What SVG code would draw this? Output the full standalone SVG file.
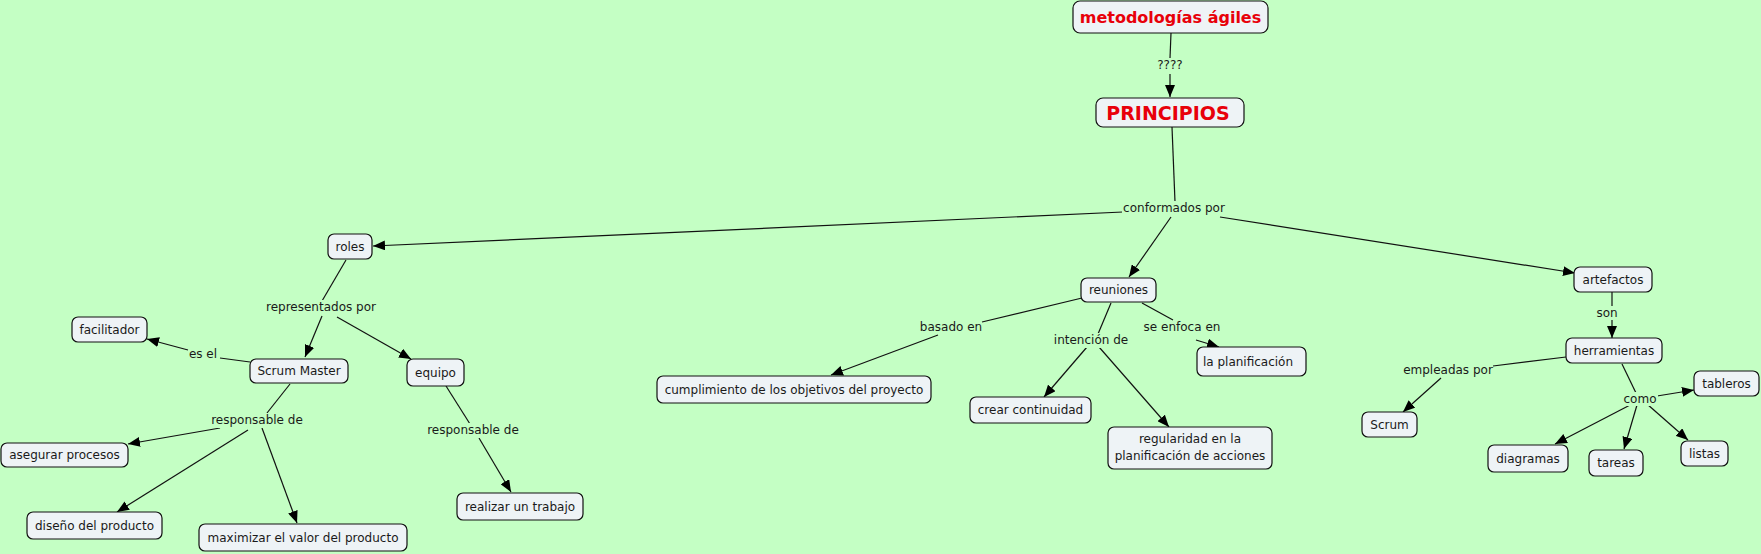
<svg xmlns="http://www.w3.org/2000/svg" width="1761" height="554" viewBox="0 0 1761 554">
<style>
.n rect{fill:#eef3f6;stroke:#111;stroke-width:1.2}
.n text{font-family:"DejaVu Sans",Verdana,sans-serif;font-size:12px;fill:#1a1a1a;text-anchor:middle;dominant-baseline:central}
.n text.t{font-weight:bold;fill:#e8000a}
.l{font-family:"DejaVu Sans",Verdana,sans-serif;font-size:12px;fill:#1a1a1a;text-anchor:middle;dominant-baseline:central}
.c path{fill:none;stroke:#111;stroke-width:1.2}
.c path.a{marker-end:url(#ah)}
</style>
<defs>
<marker id="ah" viewBox="0 0 12 10" refX="12" refY="5" markerWidth="12" markerHeight="10" markerUnits="userSpaceOnUse" orient="auto">
<path d="M0,0 L12,5 L0,10 z" fill="#000"/>
</marker>
</defs>
<rect x="0" y="0" width="1761" height="554" fill="#c4ffc4"/>
<g class="c" id="connectors">
<path d="M1171,33 L1170,58"/><path class="a" d="M1170,74 L1170,97"/>
<path d="M1172,127 L1175,202"/>
<path class="a" d="M1123,212 L373,246"/>
<path class="a" d="M1171,217 L1129,277"/>
<path class="a" d="M1220,217 L1575,273"/>
<path d="M346,260 L322,301"/><path class="a" d="M322,316 L305,357"/>
<path class="a" d="M337,317 L411,359"/>
<path d="M250,362 L220,358"/><path class="a" d="M188,350 L147,339"/>
<path d="M290,384 L267,413"/>
<path class="a" d="M220,428 L128,444"/>
<path class="a" d="M248,430 L117,512"/>
<path class="a" d="M262,428 L297,523"/>
<path d="M446,386 L470,424"/><path class="a" d="M479,438 L511,492"/>
<path d="M1082,298 L982,322"/><path class="a" d="M938,335 L831,375"/>
<path d="M1111,303 L1098,334"/>
<path class="a" d="M1087,347 L1044,397"/>
<path class="a" d="M1099,347 L1169,427"/>
<path d="M1142,303 L1173,320"/><path class="a" d="M1196,340 L1219,347"/>
<path d="M1612,292 L1612,306"/><path class="a" d="M1612,320 L1612,338"/>
<path d="M1566,357 L1493,366"/><path class="a" d="M1441,378 L1403,412"/>
<path d="M1622,364 L1636,393"/>
<path class="a" d="M1657,396 L1694,390"/>
<path class="a" d="M1632,404 L1555,444"/>
<path class="a" d="M1637,405 L1624,449"/>
<path class="a" d="M1647,404 L1688,440"/>
</g>
<g id="labels">
<rect x="1154" y="59" width="32" height="14" fill="#c4ffc4"/>
<text class="l" x="1170" y="65">????</text>
<rect x="1122" y="201" width="104" height="15" fill="#c4ffc4"/>
<text class="l" x="1174" y="208">conformados por</text>
<rect x="265" y="300" width="112" height="15" fill="#c4ffc4"/>
<text class="l" x="321" y="307">representados por</text>
<text class="l" x="203" y="354">es el</text>
<rect x="211" y="413" width="92" height="15" fill="#c4ffc4"/>
<text class="l" x="257" y="420">responsable de</text>
<rect x="426" y="423" width="93" height="15" fill="#c4ffc4"/>
<text class="l" x="473" y="430">responsable de</text>
<text class="l" x="951" y="327">basado en</text>
<rect x="1053" y="333" width="76" height="15" fill="#c4ffc4"/>
<text class="l" x="1091" y="340">intención de</text>
<text class="l" x="1182" y="327">se enfoca en</text>
<rect x="1595" y="306" width="25" height="14" fill="#c4ffc4"/>
<text class="l" x="1607" y="313">son</text>
<text class="l" x="1448" y="370">empleadas por</text>
<rect x="1622" y="392" width="36" height="14" fill="#c4ffc4"/>
<text class="l" x="1640" y="399">como</text>
</g>
<g class="n" id="n-metodologias"><rect x="1073" y="1" width="195" height="32" rx="7"/><text class="t" x="1170.5" y="17" style="font-size:16px">metodologías ágiles</text></g>
<g class="n" id="n-principios"><rect x="1096" y="98" width="148" height="29" rx="7"/><text class="t" x="1168" y="113" style="font-size:19px">PRINCIPIOS</text></g>
<g class="n" id="n-roles"><rect x="328" y="234" width="44" height="25" rx="6"/><text x="350" y="246.5">roles</text></g>
<g class="n" id="n-reuniones"><rect x="1081" y="278" width="75" height="24" rx="6"/><text x="1118.5" y="290">reuniones</text></g>
<g class="n" id="n-artefactos"><rect x="1574" y="267" width="78" height="25" rx="6"/><text x="1613" y="279.5">artefactos</text></g>
<g class="n" id="n-facilitador"><rect x="72" y="317" width="75" height="25" rx="6"/><text x="109.5" y="329.5">facilitador</text></g>
<g class="n" id="n-scrummaster"><rect x="250" y="359" width="98" height="24" rx="6"/><text x="299" y="371">Scrum Master</text></g>
<g class="n" id="n-equipo"><rect x="407" y="359" width="57" height="27" rx="6"/><text x="435.5" y="372.5">equipo</text></g>
<g class="n" id="n-asegurar"><rect x="1" y="443" width="127" height="24" rx="6"/><text x="64.5" y="455">asegurar procesos</text></g>
<g class="n" id="n-diseno"><rect x="27" y="512" width="135" height="27" rx="6"/><text x="94.5" y="525.5">diseño del producto</text></g>
<g class="n" id="n-maximizar"><rect x="199" y="524" width="208" height="27" rx="6"/><text x="303" y="537.5">maximizar el valor del producto</text></g>
<g class="n" id="n-realizar"><rect x="457" y="493" width="126" height="27" rx="6"/><text x="520" y="506.5">realizar un trabajo</text></g>
<g class="n" id="n-cumplimiento"><rect x="657" y="376" width="274" height="27" rx="6"/><text x="794" y="389.5">cumplimiento de los objetivos del proyecto</text></g>
<g class="n" id="n-crear"><rect x="970" y="397" width="121" height="26" rx="6"/><text x="1030.5" y="410">crear continuidad</text></g>
<g class="n" id="n-regularidad"><rect x="1108" y="427" width="164" height="42" rx="6"/><text x="1190" y="439">regularidad en la</text><text x="1190" y="456">planificación de acciones</text></g>
<g class="n" id="n-laplanificacion"><rect x="1197" y="347" width="109" height="29" rx="6"/><text x="1248" y="361.5">la planificación</text></g>
<g class="n" id="n-herramientas"><rect x="1566" y="338" width="96" height="25" rx="6"/><text x="1614" y="350.5">herramientas</text></g>
<g class="n" id="n-scrum"><rect x="1362" y="412" width="55" height="25" rx="6"/><text x="1389.5" y="424.5">Scrum</text></g>
<g class="n" id="n-tableros"><rect x="1694" y="371" width="65" height="25" rx="6"/><text x="1726.5" y="383.5">tableros</text></g>
<g class="n" id="n-diagramas"><rect x="1488" y="445" width="80" height="27" rx="6"/><text x="1528" y="458.5">diagramas</text></g>
<g class="n" id="n-tareas"><rect x="1589" y="450" width="54" height="26" rx="6"/><text x="1616" y="463">tareas</text></g>
<g class="n" id="n-listas"><rect x="1681" y="441" width="47" height="25" rx="6"/><text x="1704.5" y="453.5">listas</text></g>
</svg>
